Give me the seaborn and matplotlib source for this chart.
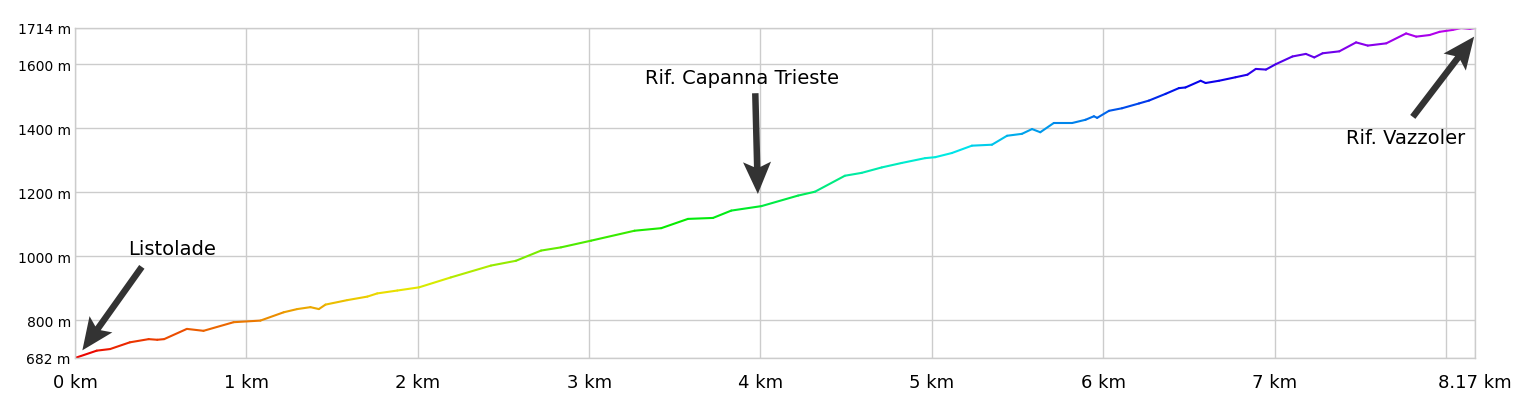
import numpy as np
import pandas as pd
import matplotlib.pyplot as plt
import matplotlib.colors as mcolors
from matplotlib.patches import ArrowStyle
from matplotlib.path import Path
import seaborn as sns

# Profilo altimetrico: distanza (km) e quota (m)
distanza_km = [0.0, 0.127, 0.205, 0.32, 0.43, 0.48, 0.52, 0.653, 0.75, 0.926,
               1.082, 1.218, 1.297, 1.374, 1.423, 1.462, 1.589, 1.706, 1.764, 1.881,
               2.008, 2.193, 2.427, 2.573, 2.72, 2.836, 3.012, 3.265, 3.421, 3.577,
               3.723, 3.83, 4.006, 4.22, 4.318, 4.493, 4.591, 4.708, 4.825, 4.961,
               5.02, 5.117, 5.234, 5.351, 5.439, 5.526, 5.585, 5.633, 5.712, 5.82,
               5.897, 5.946, 5.965, 6.034, 6.11, 6.209, 6.267, 6.364, 6.442, 6.48,
               6.569, 6.598, 6.676, 6.773, 6.842, 6.891, 6.95, 7.008, 7.105, 7.183,
               7.232, 7.281, 7.378, 7.476, 7.544, 7.652, 7.768, 7.827, 7.905, 7.963,
               8.04, 8.09, 8.14, 8.17]
quota_m = [682, 705, 710, 731, 741, 739, 741, 773, 767, 794,
           799, 825, 835, 841, 835, 849, 863, 874, 884, 893,
           903, 934, 971, 986, 1018, 1028, 1049, 1080, 1088, 1117,
           1120, 1143, 1157, 1190, 1202, 1252, 1261, 1278, 1292, 1307,
           1310, 1323, 1346, 1349, 1377, 1383, 1398, 1388, 1417, 1417,
           1427, 1438, 1433, 1455, 1463, 1478, 1487, 1508, 1526, 1528,
           1549, 1542, 1549, 1560, 1568, 1586, 1584, 1601, 1625, 1633,
           1622, 1635, 1641, 1669, 1659, 1666, 1697, 1687, 1692, 1702,
           1708, 1714, 1711, 1714]

x_grid = [0, 1, 2, 3, 4, 5, 6, 7, 8, 8.17]
x_labels = ["0 km", "1 km", "2 km", "3 km", "4 km", "5 km", "6 km", "7 km", "", "8.17 km"]
y_ticks = [682, 800, 1000, 1200, 1400, 1600, 1714]
y_labels = ["682 m", "800 m", "1000 m", "1200 m", "1400 m", "1600 m", "1714 m"]

# Punti notevoli: nome, posizione testo, coda e punta della freccia (km, m)
tappe = ["Listolade", "Rif. Capanna Trieste", "Rif. Vazzoler"]
tappe_testo = [(0.567, 1023), (3.895, 1558), (7.766, 1370)]
tappe_coda = [(0.39, 967), (3.97, 1510), (7.807, 1436)]
tappe_punta = [(0.043, 706), (3.985, 1195), (8.165, 1687)]


class Stealth(ArrowStyle._Base):
    """Freccia piena con punta leggermente concava (pixel con mutation_scale=0.72)."""

    def __init__(self, tail=6.5, head_w=28.0, head_l=32.0, notch=27.0):
        self.tail, self.head_w, self.head_l, self.notch = tail, head_w, head_l, notch
        super().__init__()

    def transmute(self, path, mutation_size, linewidth):
        p0 = np.asarray(path.vertices[0], float)
        p1 = np.asarray(path.vertices[-1], float)
        d = (p1 - p0) / np.hypot(*(p1 - p0))
        n = np.array([-d[1], d[0]])
        s = mutation_size
        tw, hw, hl, nt = self.tail * s / 2, self.head_w * s / 2, self.head_l * s, self.notch * s
        verts = [p0 + n * tw, p1 - d * nt + n * tw, p1 - d * hl + n * hw, p1,
                 p1 - d * hl - n * hw, p1 - d * nt - n * tw, p0 - n * tw, p0 + n * tw]
        codes = [Path.MOVETO] + [Path.LINETO] * 6 + [Path.CLOSEPOLY]
        return Path(verts, codes), True


sns.set_theme(style="whitegrid")
plt.rcParams['font.family'] = ['DejaVu Sans']

# ogni segmento prende il colore della sua quota media
righe = []
for i in range(len(distanza_km) - 1):
    q_media = (quota_m[i] + quota_m[i + 1]) / 2 + i * 1e-6
    for j in (i, i + 1):
        righe.append({"km": distanza_km[j], "quota": quota_m[j], "seg": q_media})
df = pd.DataFrame(righe)

colori = plt.cm.hsv(np.linspace(0, 0.815, 256))
colori[:, :3] *= 0.92
cmap = mcolors.LinearSegmentedColormap.from_list("quota", colori)

fig = plt.figure(figsize=(15.25, 4.02), dpi=100)
ax = fig.add_axes([75 / 1525, 1 - 359 / 402, 1400 / 1525, 330 / 402])

sns.lineplot(data=df, x="km", y="quota", hue="seg", palette=cmap,
             hue_norm=(682, 1714), estimator=None, sort=False,
             legend=False, linewidth=1.5, ax=ax)

ax.set_xlim(0, 8.17)
ax.set_ylim(682, 1714)
ax.set_xticks(x_grid)
ax.set_xticklabels(x_labels)
ax.set_yticks(y_ticks)
ax.set_yticklabels(y_labels)
ax.set_xlabel("")
ax.set_ylabel("")
ax.grid(True, color="#cccccc", linewidth=1)
for s in ax.spines.values():
    s.set_color("#cccccc")
    s.set_linewidth(1)
ax.tick_params(axis="x", length=0, pad=11, labelsize=13, colors="black")
ax.tick_params(axis="y", length=0, pad=3, labelsize=10, colors="black")

for nome, t, c, p in zip(tappe, tappe_testo, tappe_coda, tappe_punta):
    ax.text(t[0], t[1], nome, ha="center", va="center", fontsize=14, color="black")
    ax.annotate("", xy=p, xytext=c,
                arrowprops=dict(arrowstyle=Stealth(), facecolor="#333333",
                                edgecolor="none", shrinkA=0, shrinkB=0,
                                mutation_scale=0.72))

plt.savefig("out.png", dpi=100)
plt.close("all")
